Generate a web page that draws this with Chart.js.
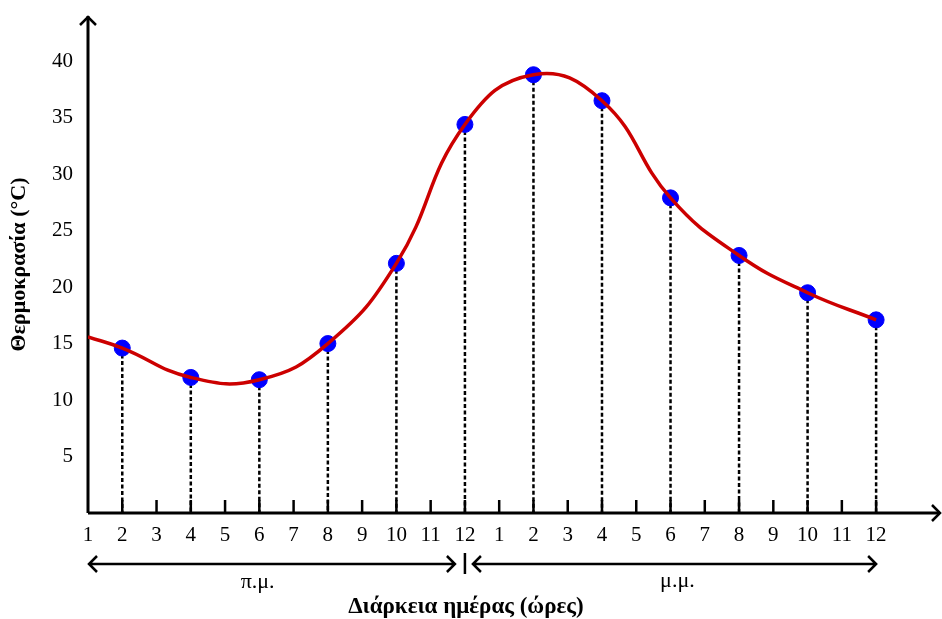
<!DOCTYPE html>
<html>
<head>
<meta charset="utf-8">
<script src="https://cdn.jsdelivr.net/npm/chart.js@4"></script>
<style>
  body { margin: 0; background: #fff; }
</style>
</head>
<body>
<canvas id="chart" width="942" height="619"></canvas>
<script>
// hours of the day, morning then afternoon
const hourLabels = ['1','2','3','4','5','6','7','8','9','10','11','12',
                    '1','2','3','4','5','6','7','8','9','10','11','12'];
// positions (index in hourLabels) where the temperature was measured
const measuredAt = [1, 3, 5, 7, 9, 11, 13, 15, 17, 19, 21, 23];
const temperatures = [14.6, 12.0, 11.8, 15.0, 22.1, 34.4, 38.8, 36.5, 27.9, 22.8, 19.5, 17.1];
// where the curve starts at the first hour
const curveStart = 15.6;
const yTicks = [5, 10, 15, 20, 25, 30, 35, 40];

const FONT = "'Liberation Serif', 'Times New Roman', serif";

const points = measuredAt.map((h, i) => ({ x: h, y: temperatures[i] }));

const extrasPlugin = {
  id: 'extras',
  beforeDatasetsDraw(chart) {
    const { ctx, chartArea } = chart;
    const xs = chart.scales.x, ys = chart.scales.y;
    const y0 = ys.getPixelForValue(0);
    const x0 = xs.getPixelForValue(0);
    const xEnd = chart.width - 2;
    ctx.save();

    // dashed drop lines
    ctx.strokeStyle = '#000';
    ctx.lineWidth = 2.5;
    ctx.setLineDash([4, 2.5]);
    points.forEach(p => {
      const px = xs.getPixelForValue(p.x);
      ctx.beginPath();
      ctx.moveTo(px, ys.getPixelForValue(p.y));
      ctx.lineTo(px, y0);
      ctx.stroke();
    });
    ctx.setLineDash([]);

    // tick marks on the x axis
    ctx.lineWidth = 2.5;
    for (let i = 1; i < hourLabels.length; i++) {
      const px = xs.getPixelForValue(i);
      ctx.beginPath();
      ctx.moveTo(px, y0);
      ctx.lineTo(px, y0 - 13);
      ctx.stroke();
    }

    // axes with arrow heads
    ctx.lineWidth = 3;
    ctx.beginPath();
    ctx.moveTo(x0, y0);
    ctx.lineTo(x0, chartArea.top);
    ctx.moveTo(x0, y0);
    ctx.lineTo(xEnd, y0);
    ctx.stroke();
    ctx.lineWidth = 2.5;
    ctx.beginPath();
    ctx.moveTo(x0 - 8, chartArea.top + 9);
    ctx.lineTo(x0, chartArea.top + 1);
    ctx.lineTo(x0 + 8, chartArea.top + 9);
    ctx.moveTo(xEnd - 8, y0 - 8);
    ctx.lineTo(xEnd, y0);
    ctx.lineTo(xEnd - 8, y0 + 8);
    ctx.stroke();
    ctx.restore();
  },
  afterDraw(chart) {
    const { ctx } = chart;
    const xs = chart.scales.x;
    const left = xs.getPixelForValue(0);
    const noon = xs.getPixelForValue(11);
    const end = xs.getPixelForValue(23);
    const ay = 564;
    ctx.save();
    ctx.strokeStyle = '#000';
    ctx.lineWidth = 2.5;
    ctx.beginPath();
    // morning arrow
    ctx.moveTo(left + 1, ay);
    ctx.lineTo(noon - 10, ay);
    ctx.moveTo(left + 9, ay - 8);
    ctx.lineTo(left + 1, ay);
    ctx.lineTo(left + 9, ay + 8);
    ctx.moveTo(noon - 18, ay - 8);
    ctx.lineTo(noon - 10, ay);
    ctx.lineTo(noon - 18, ay + 8);
    // afternoon arrow
    ctx.moveTo(noon + 8, ay);
    ctx.lineTo(end, ay);
    ctx.moveTo(noon + 16, ay - 8);
    ctx.lineTo(noon + 8, ay);
    ctx.lineTo(noon + 16, ay + 8);
    ctx.moveTo(end - 8, ay - 8);
    ctx.lineTo(end, ay);
    ctx.lineTo(end - 8, ay + 8);
    ctx.stroke();
    // separator at noon
    ctx.beginPath();
    ctx.moveTo(noon, ay - 11);
    ctx.lineTo(noon, ay + 10);
    ctx.stroke();

    ctx.fillStyle = '#000';
    ctx.textAlign = 'center';
    ctx.textBaseline = 'middle';
    ctx.font = '22px ' + FONT;
    ctx.fillText('π.μ.', xs.getPixelForValue(4.95), 582);
    ctx.fillText('μ.μ.', xs.getPixelForValue(17.2), 581);
    ctx.font = 'bold 23px ' + FONT;
    ctx.fillText('Διάρκεια ημέρας (ώρες)', noon + 1, 607);
    ctx.restore();
  }
};

new Chart(document.getElementById('chart'), {
  type: 'line',
  data: {
    datasets: [
      {
        label: 'curve',
        data: [{ x: 0, y: curveStart }, ...points],
        borderColor: '#cc0000',
        borderWidth: 3.5,
        tension: 0.45,
        pointRadius: 0,
        fill: false
      },
      {
        type: 'scatter',
        label: 'measurements',
        data: points,
        backgroundColor: '#0000ff',
        borderColor: '#0000ff',
        pointRadius: 8,
        pointHoverRadius: 8
      }
    ]
  },
  options: {
    responsive: false,
    animation: false,
    layout: { padding: { top: 16, right: 2, left: 0, bottom: 0 } },
    plugins: {
      legend: { display: false },
      tooltip: { enabled: false }
    },
    scales: {
      x: {
        type: 'linear',
        min: 0,
        max: 24.66,
        grid: { display: false, drawTicks: false },
        border: { display: false },
        afterBuildTicks: scale => {
          scale.ticks = hourLabels.map((_, i) => ({ value: i }));
        },
        afterFit: scale => {
          scale.height = 106;
          scale.paddingLeft = 0;
          scale.paddingRight = 0;
        },
        ticks: {
          autoSkip: false,
          maxRotation: 0,
          padding: 10,
          color: '#000',
          font: { family: FONT, size: 21 },
          callback: v => hourLabels[v]
        }
      },
      y: {
        min: 0,
        max: 44,
        grid: { display: false, drawTicks: false },
        border: { display: false },
        afterBuildTicks: scale => {
          scale.ticks = yTicks.map(v => ({ value: v }));
        },
        afterFit: scale => {
          scale.width = 88;
          scale.paddingTop = 0;
          scale.paddingBottom = 0;
        },
        ticks: {
          padding: 15,
          color: '#000',
          font: { family: FONT, size: 21 }
        },
        title: {
          display: true,
          text: 'Θερμοκρασία (°C)',
          color: '#000',
          padding: { top: 6, bottom: 0 },
          font: { family: FONT, size: 22, weight: 'bold' }
        }
      }
    }
  },
  plugins: [extrasPlugin]
});
</script>
</body>
</html>
